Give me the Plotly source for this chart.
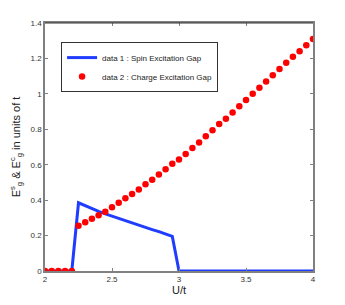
import plotly.graph_objects as go

u_vals = [round(2 + 0.05 * i, 2) for i in range(41)]

spin_gap = [0, 0, 0, 0, 0, 0.385, 0.368, 0.352, 0.337, 0.322, 0.309, 0.295, 0.282,
            0.270, 0.258, 0.246, 0.234, 0.222, 0.210, 0.195, 0,
            0, 0, 0, 0, 0, 0, 0, 0, 0, 0, 0, 0, 0, 0, 0, 0, 0, 0, 0, 0]

charge_gap = [0, 0, 0, 0, 0, 0.255, 0.275, 0.295, 0.315, 0.335, 0.36, 0.385, 0.41,
              0.435, 0.46, 0.49, 0.515, 0.545, 0.575, 0.605, 0.63, 0.66, 0.695,
              0.725, 0.76, 0.795, 0.83, 0.86, 0.895, 0.93, 0.965, 1.0, 1.035,
              1.07, 1.105, 1.14, 1.175, 1.21, 1.24, 1.275, 1.31]

x_ticks = [2, 2.5, 3, 3.5, 4]
x_labels = ["2", "2.5", "3", "3.5", "4"]
y_ticks = [0, 0.2, 0.4, 0.6, 0.8, 1.0, 1.2, 1.4]
y_labels = ["0", "0.2", "0.4", "0.6", "0.8", "1", "1.2", "1.4"]

fig = go.Figure()
fig.add_trace(go.Scatter(x=u_vals, y=spin_gap, mode="lines",
                         name="data 1 : Spin Excitation Gap",
                         line=dict(color="#1f3cff", width=3)))
fig.add_trace(go.Scatter(x=u_vals, y=charge_gap, mode="markers",
                         name="data 2 : Charge Excitation Gap",
                         marker=dict(color="#ff0000", size=6.5)))

axis_common = dict(showgrid=False, zeroline=False, showline=True, mirror="allticks",
                   linecolor="#808080", linewidth=1.5, ticks="inside", ticklen=3,
                   tickcolor="#808080", automargin=False,
                   tickfont=dict(family="Liberation Sans, Arial", size=8, color="#333"))

fig.update_layout(
    width=345, height=305,
    margin=dict(l=37, r=40, t=15, b=42),
    paper_bgcolor="white", plot_bgcolor="white",
    xaxis=dict(range=[2, 4], tickvals=x_ticks, ticktext=x_labels,
               title=dict(text="U/t", standoff=2,
                          font=dict(family="Liberation Sans, Arial", size=11, color="#222")),
               **axis_common),
    yaxis=dict(range=[0, 1.4], tickvals=y_ticks, ticktext=y_labels,
               title=dict(text="E<sup>s</sup><sub>g</sub> &amp; E<sup>c</sup><sub>g</sub> in units of t",
                          standoff=9,
                          font=dict(family="Liberation Sans, Arial", size=11, color="#222")),
               **axis_common),
    legend=dict(x=0.06, y=0.923, xanchor="left", yanchor="top",
                bgcolor="white", bordercolor="#333", borderwidth=1,
                font=dict(family="Liberation Sans, Arial", size=8, color="#222"),
                tracegroupgap=2, itemwidth=30),
    showlegend=True,
)

fig.add_shape(type="line", xref="paper", yref="paper", x0=0, x1=1, y0=1, y1=1,
              line=dict(color="#333", width=1.2))

fig.write_html("out.html")
